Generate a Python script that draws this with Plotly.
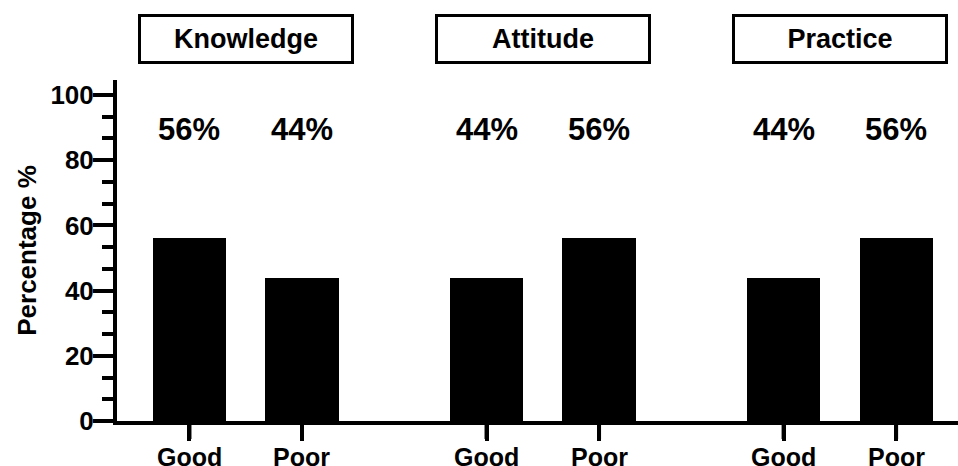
import plotly.graph_objects as go

groups = ["Knowledge", "Attitude", "Practice"]
levels = ["Good", "Poor"]
values = {
    "Knowledge": [56, 44],
    "Attitude": [44, 56],
    "Practice": [44, 56],
}
y_ticks = [0, 20, 40, 60, 80, 100]

GROUP_STEP = 2.64
FONT = "Liberation Sans, Arial, sans-serif"

xs, ys, labels = [], [], []
for gi, g in enumerate(groups):
    for li, lv in enumerate(levels):
        xs.append(gi * GROUP_STEP + li)
        ys.append(values[g][li])
        labels.append(lv)

fig = go.Figure()
fig.add_trace(go.Bar(
    x=xs, y=ys, width=0.65,
    marker=dict(color="black", line=dict(width=0)),
    showlegend=False, hoverinfo="x+y",
))

# percentage labels
for x, y in zip(xs, ys):
    fig.add_annotation(x=x, y=89.5, text=f"<b>{y}%</b>", showarrow=False,
                       xref="x", yref="y", font=dict(size=31, color="black", family=FONT))

# category labels and tick marks under the axis
for x, lab in zip(xs, labels):
    fig.add_annotation(x=x, y=0, xref="x", yref="paper", yanchor="middle", yshift=-36,
                       text=f"<b>{lab}</b>", showarrow=False,
                       font=dict(size=25, color="black", family=FONT))
    fig.add_shape(type="line", xref="x", yref="paper", x0=x, x1=x,
                  ysizemode="pixel", yanchor=0, y0=-2, y1=-18,
                  line=dict(color="black", width=4), layer="above")

# group header boxes
for gi, g in enumerate(groups):
    fig.add_annotation(x=gi * GROUP_STEP + 0.5, y=1.0, xref="x", yref="paper",
                       yanchor="bottom", yshift=16,
                       text=f"<b>{g}</b>", showarrow=False,
                       width=210, height=44, align="center", valign="middle",
                       bordercolor="black", borderwidth=3, borderpad=0,
                       font=dict(size=27, color="black", family=FONT))

fig.update_layout(
    width=958, height=466,
    margin=dict(l=117, r=0, t=80, b=45),
    plot_bgcolor="white", paper_bgcolor="white",
    font=dict(family=FONT, color="black", size=25),
    bargap=0,
)
fig.update_xaxes(
    range=[-0.644, 6.83], automargin=False,
    tickmode="array", tickvals=xs, showticklabels=False,
    ticks="outside", ticklen=16, tickwidth=4, tickcolor="black",
    showline=True, linecolor="black", linewidth=4,
    showgrid=False, zeroline=False,
)
fig.update_yaxes(
    range=[0, 104.6], automargin=False,
    tickmode="array", tickvals=y_ticks, ticktext=[f"<b>{v}</b>" for v in y_ticks],
    ticks="outside", ticklen=20, tickwidth=4, tickcolor="black",
    minor=dict(dtick=20/3, tick0=0, ticks="outside", ticklen=11, tickwidth=4, tickcolor="black", showgrid=False),
    showline=True, linecolor="black", linewidth=4,
    showgrid=False, zeroline=False,
    ticklabelstandoff=-6,
    tickfont=dict(size=26, family=FONT, color="black"),
    title=dict(text="<b>Percentage %</b>", font=dict(size=26, family=FONT, color="black"), standoff=7),
)

fig.write_html("out.html", config={"displayModeBar": False},
               post_script="document.body.style.margin='0';document.body.style.overflow='hidden';")
